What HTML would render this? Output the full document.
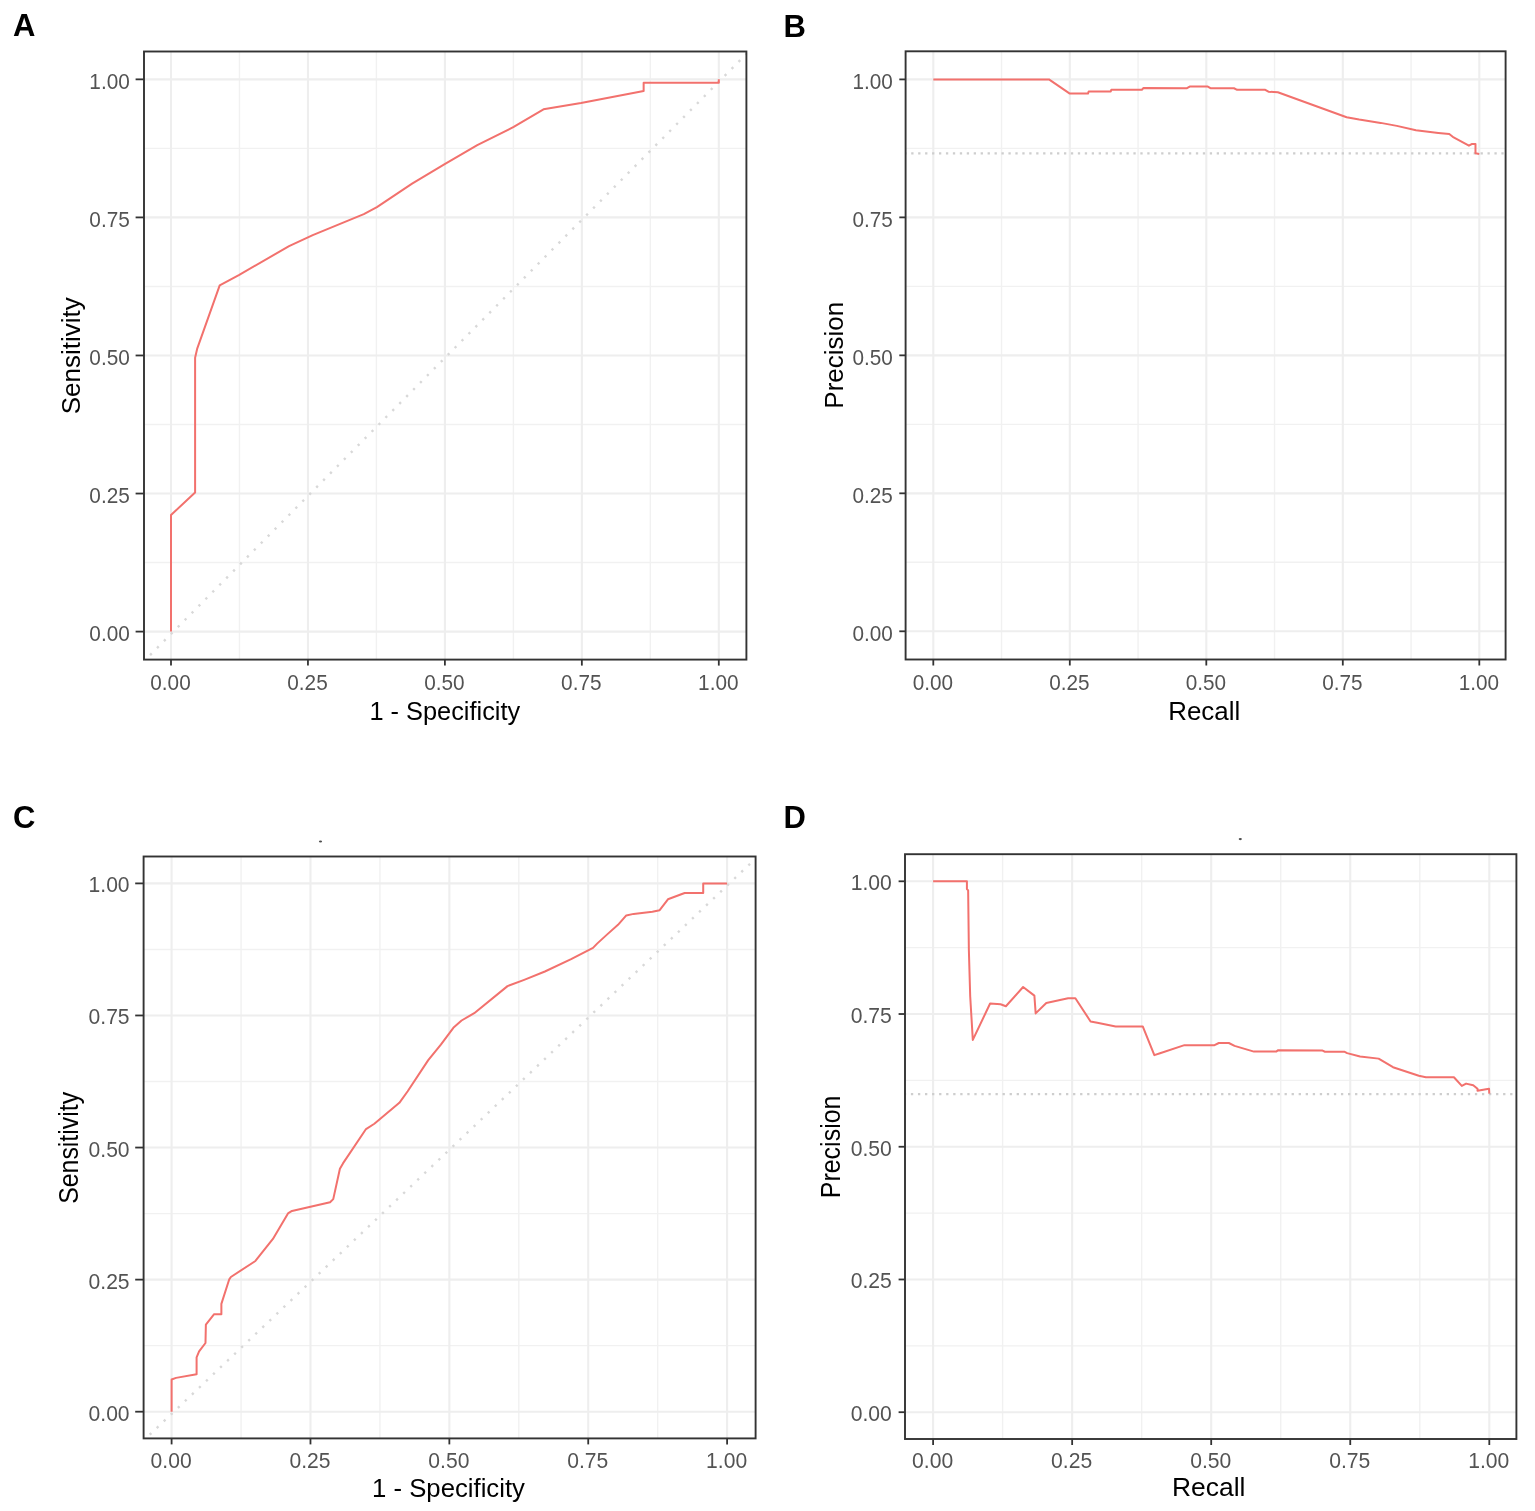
<!DOCTYPE html>
<html><head><meta charset="utf-8"><title>ROC and PR curves</title>
<style>
html,body{margin:0;padding:0;background:#fff;}
body{width:1535px;height:1511px;overflow:hidden;}
svg{display:block;}
text{font-family:'Liberation Sans', Arial, sans-serif;}
</style></head><body>
<svg width="1535" height="1511" viewBox="0 0 1535 1511">
<rect width="1535" height="1511" fill="#fff"/>
<line x1="144" x2="746.4" y1="562.569" y2="562.569" stroke="#F1F1F1" stroke-width="1.4"/>
<line y1="51.5" y2="659.6" x1="239.475" x2="239.475" stroke="#F1F1F1" stroke-width="1.4"/>
<line x1="144" x2="746.4" y1="424.506" y2="424.506" stroke="#F1F1F1" stroke-width="1.4"/>
<line y1="51.5" y2="659.6" x1="376.425" x2="376.425" stroke="#F1F1F1" stroke-width="1.4"/>
<line x1="144" x2="746.4" y1="286.444" y2="286.444" stroke="#F1F1F1" stroke-width="1.4"/>
<line y1="51.5" y2="659.6" x1="513.375" x2="513.375" stroke="#F1F1F1" stroke-width="1.4"/>
<line x1="144" x2="746.4" y1="148.381" y2="148.381" stroke="#F1F1F1" stroke-width="1.4"/>
<line y1="51.5" y2="659.6" x1="650.325" x2="650.325" stroke="#F1F1F1" stroke-width="1.4"/>
<line x1="144" x2="746.4" y1="631.6" y2="631.6" stroke="#EEEEEE" stroke-width="2.1"/>
<line y1="51.5" y2="659.6" x1="171" x2="171" stroke="#EEEEEE" stroke-width="2.1"/>
<line x1="144" x2="746.4" y1="493.538" y2="493.538" stroke="#EEEEEE" stroke-width="2.1"/>
<line y1="51.5" y2="659.6" x1="307.95" x2="307.95" stroke="#EEEEEE" stroke-width="2.1"/>
<line x1="144" x2="746.4" y1="355.475" y2="355.475" stroke="#EEEEEE" stroke-width="2.1"/>
<line y1="51.5" y2="659.6" x1="444.9" x2="444.9" stroke="#EEEEEE" stroke-width="2.1"/>
<line x1="144" x2="746.4" y1="217.413" y2="217.413" stroke="#EEEEEE" stroke-width="2.1"/>
<line y1="51.5" y2="659.6" x1="581.85" x2="581.85" stroke="#EEEEEE" stroke-width="2.1"/>
<line x1="144" x2="746.4" y1="79.35" y2="79.35" stroke="#EEEEEE" stroke-width="2.1"/>
<line y1="51.5" y2="659.6" x1="718.8" x2="718.8" stroke="#EEEEEE" stroke-width="2.1"/>
<line x1="145.606" y1="659.6" x2="746.4" y2="53.926" stroke="#D8D8D8" stroke-width="2.4" stroke-dasharray="2.3 7.53" stroke-dashoffset="3.428"/>
<polyline points="171,631.6 171,515.075 195.103,492.433 195.103,357.684 197.294,348.296 219.699,285.339 238.818,275.123 289.051,246.13 312.771,235.085 363.826,214.099 376.918,207.085 412.087,183.615 444.681,164.12 477.275,145.178 513.704,126.899 543.504,109.337 581.028,103.097 643.642,91.058 643.642,82.829 718.8,82.829 718.8,79.35" fill="none" stroke="#F2716D" stroke-width="2.0" stroke-linejoin="round"/>
<rect x="144" y="51.5" width="602.4" height="608.1" fill="none" stroke="#333333" stroke-width="1.9"/>
<line x1="135.6" x2="144" y1="631.6" y2="631.6" stroke="#333333" stroke-width="1.8"/>
<line y1="659.6" y2="665.6" x1="171" x2="171" stroke="#333333" stroke-width="1.8"/>
<line x1="135.6" x2="144" y1="493.538" y2="493.538" stroke="#333333" stroke-width="1.8"/>
<line y1="659.6" y2="665.6" x1="307.95" x2="307.95" stroke="#333333" stroke-width="1.8"/>
<line x1="135.6" x2="144" y1="355.475" y2="355.475" stroke="#333333" stroke-width="1.8"/>
<line y1="659.6" y2="665.6" x1="444.9" x2="444.9" stroke="#333333" stroke-width="1.8"/>
<line x1="135.6" x2="144" y1="217.413" y2="217.413" stroke="#333333" stroke-width="1.8"/>
<line y1="659.6" y2="665.6" x1="581.85" x2="581.85" stroke="#333333" stroke-width="1.8"/>
<line x1="135.6" x2="144" y1="79.35" y2="79.35" stroke="#333333" stroke-width="1.8"/>
<line y1="659.6" y2="665.6" x1="718.8" x2="718.8" stroke="#333333" stroke-width="1.8"/>
<text transform="translate(129.8,641) scale(1.0,1.1)" text-anchor="end" font-size="20.8" fill="#535353">0.00</text>
<text transform="translate(129.8,502.938) scale(1.0,1.1)" text-anchor="end" font-size="20.8" fill="#535353">0.25</text>
<text transform="translate(129.8,364.875) scale(1.0,1.1)" text-anchor="end" font-size="20.8" fill="#535353">0.50</text>
<text transform="translate(129.8,226.813) scale(1.0,1.1)" text-anchor="end" font-size="20.8" fill="#535353">0.75</text>
<text transform="translate(129.8,88.75) scale(1.0,1.1)" text-anchor="end" font-size="20.8" fill="#535353">1.00</text>
<text transform="translate(170.5,689.8) scale(1.0,1.1)" text-anchor="middle" font-size="20.8" fill="#535353">0.00</text>
<text transform="translate(307.45,689.8) scale(1.0,1.1)" text-anchor="middle" font-size="20.8" fill="#535353">0.25</text>
<text transform="translate(444.4,689.8) scale(1.0,1.1)" text-anchor="middle" font-size="20.8" fill="#535353">0.50</text>
<text transform="translate(581.35,689.8) scale(1.0,1.1)" text-anchor="middle" font-size="20.8" fill="#535353">0.75</text>
<text transform="translate(718.3,689.8) scale(1.0,1.1)" text-anchor="middle" font-size="20.8" fill="#535353">1.00</text>
<text transform="translate(444.8,719.9) scale(0.975,1.02)" text-anchor="middle" font-size="26" fill="#000">1 - Specificity</text>
<text transform="translate(79.8,355.8) scale(1.02,1.0) rotate(-90)" text-anchor="middle" font-size="26" fill="#000">Sensitivity</text>
<text x="13" y="36.4" font-size="31" font-weight="bold" fill="#000">A</text>
<line x1="905.6" x2="1505.6" y1="562.312" y2="562.312" stroke="#F1F1F1" stroke-width="1.4"/>
<line y1="51.3" y2="659.5" x1="1001.55" x2="1001.55" stroke="#F1F1F1" stroke-width="1.4"/>
<line x1="905.6" x2="1505.6" y1="424.337" y2="424.337" stroke="#F1F1F1" stroke-width="1.4"/>
<line y1="51.3" y2="659.5" x1="1138.05" x2="1138.05" stroke="#F1F1F1" stroke-width="1.4"/>
<line x1="905.6" x2="1505.6" y1="286.362" y2="286.362" stroke="#F1F1F1" stroke-width="1.4"/>
<line y1="51.3" y2="659.5" x1="1274.55" x2="1274.55" stroke="#F1F1F1" stroke-width="1.4"/>
<line x1="905.6" x2="1505.6" y1="148.387" y2="148.387" stroke="#F1F1F1" stroke-width="1.4"/>
<line y1="51.3" y2="659.5" x1="1411.05" x2="1411.05" stroke="#F1F1F1" stroke-width="1.4"/>
<line x1="905.6" x2="1505.6" y1="631.3" y2="631.3" stroke="#EEEEEE" stroke-width="2.1"/>
<line y1="51.3" y2="659.5" x1="933.3" x2="933.3" stroke="#EEEEEE" stroke-width="2.1"/>
<line x1="905.6" x2="1505.6" y1="493.325" y2="493.325" stroke="#EEEEEE" stroke-width="2.1"/>
<line y1="51.3" y2="659.5" x1="1069.8" x2="1069.8" stroke="#EEEEEE" stroke-width="2.1"/>
<line x1="905.6" x2="1505.6" y1="355.35" y2="355.35" stroke="#EEEEEE" stroke-width="2.1"/>
<line y1="51.3" y2="659.5" x1="1206.3" x2="1206.3" stroke="#EEEEEE" stroke-width="2.1"/>
<line x1="905.6" x2="1505.6" y1="217.375" y2="217.375" stroke="#EEEEEE" stroke-width="2.1"/>
<line y1="51.3" y2="659.5" x1="1342.8" x2="1342.8" stroke="#EEEEEE" stroke-width="2.1"/>
<line x1="905.6" x2="1505.6" y1="79.4" y2="79.4" stroke="#EEEEEE" stroke-width="2.1"/>
<line y1="51.3" y2="659.5" x1="1479.3" x2="1479.3" stroke="#EEEEEE" stroke-width="2.1"/>
<line x1="905.6" y1="153.355" x2="1505.6" y2="153.355" stroke="#CECECE" stroke-width="2.3" stroke-dasharray="2.3 4.643" stroke-dashoffset="1.322"/>
<polyline points="933.3,79.4 1048.943,79.4 1069.8,93.584 1087.982,93.584 1088.637,91.542 1110.75,91.542 1111.296,89.721 1141.872,89.721 1143.51,88.065 1187.026,88.23 1190.138,86.409 1207.392,86.409 1210.45,88.23 1233.982,88.23 1237.094,89.776 1265.268,89.776 1268.435,91.707 1277.826,92.204 1346.622,117.205 1359.18,119.523 1380.692,122.89 1396.854,125.87 1415.964,130.175 1438.35,132.934 1449.27,134.038 1453.638,137.46 1468.926,145.628 1471.656,144.083 1475.478,144.083 1475.478,153.355 1479.3,153.906" fill="none" stroke="#F2716D" stroke-width="2.0" stroke-linejoin="round"/>
<rect x="905.6" y="51.3" width="600" height="608.2" fill="none" stroke="#333333" stroke-width="1.9"/>
<line x1="899.3" x2="905.6" y1="631.3" y2="631.3" stroke="#333333" stroke-width="1.8"/>
<line y1="659.5" y2="665.5" x1="933.3" x2="933.3" stroke="#333333" stroke-width="1.8"/>
<line x1="899.3" x2="905.6" y1="493.325" y2="493.325" stroke="#333333" stroke-width="1.8"/>
<line y1="659.5" y2="665.5" x1="1069.8" x2="1069.8" stroke="#333333" stroke-width="1.8"/>
<line x1="899.3" x2="905.6" y1="355.35" y2="355.35" stroke="#333333" stroke-width="1.8"/>
<line y1="659.5" y2="665.5" x1="1206.3" x2="1206.3" stroke="#333333" stroke-width="1.8"/>
<line x1="899.3" x2="905.6" y1="217.375" y2="217.375" stroke="#333333" stroke-width="1.8"/>
<line y1="659.5" y2="665.5" x1="1342.8" x2="1342.8" stroke="#333333" stroke-width="1.8"/>
<line x1="899.3" x2="905.6" y1="79.4" y2="79.4" stroke="#333333" stroke-width="1.8"/>
<line y1="659.5" y2="665.5" x1="1479.3" x2="1479.3" stroke="#333333" stroke-width="1.8"/>
<text transform="translate(892.8,640.7) scale(0.997,1.1)" text-anchor="end" font-size="20.8" fill="#535353">0.00</text>
<text transform="translate(892.8,502.725) scale(0.997,1.1)" text-anchor="end" font-size="20.8" fill="#535353">0.25</text>
<text transform="translate(892.8,364.75) scale(0.997,1.1)" text-anchor="end" font-size="20.8" fill="#535353">0.50</text>
<text transform="translate(892.8,226.775) scale(0.997,1.1)" text-anchor="end" font-size="20.8" fill="#535353">0.75</text>
<text transform="translate(892.8,88.8) scale(0.997,1.1)" text-anchor="end" font-size="20.8" fill="#535353">1.00</text>
<text transform="translate(932.8,689.9) scale(0.997,1.1)" text-anchor="middle" font-size="20.8" fill="#535353">0.00</text>
<text transform="translate(1069.3,689.9) scale(0.997,1.1)" text-anchor="middle" font-size="20.8" fill="#535353">0.25</text>
<text transform="translate(1205.8,689.9) scale(0.997,1.1)" text-anchor="middle" font-size="20.8" fill="#535353">0.50</text>
<text transform="translate(1342.3,689.9) scale(0.997,1.1)" text-anchor="middle" font-size="20.8" fill="#535353">0.75</text>
<text transform="translate(1478.8,689.9) scale(0.997,1.1)" text-anchor="middle" font-size="20.8" fill="#535353">1.00</text>
<text transform="translate(1204.2,719.7) scale(0.997,1.02)" text-anchor="middle" font-size="26" fill="#000">Recall</text>
<text transform="translate(842.5,355.2) scale(1.017,1.0) rotate(-90)" text-anchor="middle" font-size="26" fill="#000">Precision</text>
<text x="783.6" y="36.6" font-size="31" font-weight="bold" fill="#000">B</text>
<line x1="143.6" x2="755.6" y1="1345.663" y2="1345.663" stroke="#F1F1F1" stroke-width="1.4"/>
<line y1="856.5" y2="1438.4" x1="241.037" x2="241.037" stroke="#F1F1F1" stroke-width="1.4"/>
<line x1="143.6" x2="755.6" y1="1213.588" y2="1213.588" stroke="#F1F1F1" stroke-width="1.4"/>
<line y1="856.5" y2="1438.4" x1="379.913" x2="379.913" stroke="#F1F1F1" stroke-width="1.4"/>
<line x1="143.6" x2="755.6" y1="1081.513" y2="1081.513" stroke="#F1F1F1" stroke-width="1.4"/>
<line y1="856.5" y2="1438.4" x1="518.788" x2="518.788" stroke="#F1F1F1" stroke-width="1.4"/>
<line x1="143.6" x2="755.6" y1="949.438" y2="949.438" stroke="#F1F1F1" stroke-width="1.4"/>
<line y1="856.5" y2="1438.4" x1="657.663" x2="657.663" stroke="#F1F1F1" stroke-width="1.4"/>
<line x1="143.6" x2="755.6" y1="1411.7" y2="1411.7" stroke="#EEEEEE" stroke-width="2.1"/>
<line y1="856.5" y2="1438.4" x1="171.6" x2="171.6" stroke="#EEEEEE" stroke-width="2.1"/>
<line x1="143.6" x2="755.6" y1="1279.625" y2="1279.625" stroke="#EEEEEE" stroke-width="2.1"/>
<line y1="856.5" y2="1438.4" x1="310.475" x2="310.475" stroke="#EEEEEE" stroke-width="2.1"/>
<line x1="143.6" x2="755.6" y1="1147.55" y2="1147.55" stroke="#EEEEEE" stroke-width="2.1"/>
<line y1="856.5" y2="1438.4" x1="449.35" x2="449.35" stroke="#EEEEEE" stroke-width="2.1"/>
<line x1="143.6" x2="755.6" y1="1015.475" y2="1015.475" stroke="#EEEEEE" stroke-width="2.1"/>
<line y1="856.5" y2="1438.4" x1="588.225" x2="588.225" stroke="#EEEEEE" stroke-width="2.1"/>
<line x1="143.6" x2="755.6" y1="883.4" y2="883.4" stroke="#EEEEEE" stroke-width="2.1"/>
<line y1="856.5" y2="1438.4" x1="727.1" x2="727.1" stroke="#EEEEEE" stroke-width="2.1"/>
<line x1="145.839" y1="1438.4" x2="755.6" y2="858.495" stroke="#D8D8D8" stroke-width="2.4" stroke-dasharray="2.3 7.42" stroke-dashoffset="4.388"/>
<polyline points="171.6,1411.7 171.6,1379.474 176.044,1377.889 196.597,1374.191 196.597,1357.285 199.097,1351.474 205.486,1343.021 205.874,1324.531 214.151,1314.176 221.373,1314.176 221.373,1303.927 229.261,1279.308 230.872,1276.984 255.425,1260.976 272.923,1238.946 287.977,1213.429 291.977,1210.946 330.084,1202.176 333.25,1199.112 339.916,1168.682 342.972,1163.399 366.025,1129.06 374.357,1123.776 399.355,1102.803 407.688,1091.286 428.241,1060.116 440.851,1044.532 453.35,1027.784 461.571,1020.494 474.236,1013.203 507.511,986.102 524.176,979.815 544.896,971.52 571.116,959.211 593.002,947.853 597.113,943.626 607.501,934.117 618,924.819 626.277,915.415 633.609,913.883 652.385,911.823 659.662,910.185 667.939,899.302 684.66,893.015 703.213,893.015 703.213,883.4 727.1,883.4" fill="none" stroke="#F2716D" stroke-width="2.0" stroke-linejoin="round"/>
<rect x="143.6" y="856.5" width="612" height="581.9" fill="none" stroke="#333333" stroke-width="1.9"/>
<line x1="135.2" x2="143.6" y1="1411.7" y2="1411.7" stroke="#333333" stroke-width="1.8"/>
<line y1="1438.4" y2="1444.4" x1="171.6" x2="171.6" stroke="#333333" stroke-width="1.8"/>
<line x1="135.2" x2="143.6" y1="1279.625" y2="1279.625" stroke="#333333" stroke-width="1.8"/>
<line y1="1438.4" y2="1444.4" x1="310.475" x2="310.475" stroke="#333333" stroke-width="1.8"/>
<line x1="135.2" x2="143.6" y1="1147.55" y2="1147.55" stroke="#333333" stroke-width="1.8"/>
<line y1="1438.4" y2="1444.4" x1="449.35" x2="449.35" stroke="#333333" stroke-width="1.8"/>
<line x1="135.2" x2="143.6" y1="1015.475" y2="1015.475" stroke="#333333" stroke-width="1.8"/>
<line y1="1438.4" y2="1444.4" x1="588.225" x2="588.225" stroke="#333333" stroke-width="1.8"/>
<line x1="135.2" x2="143.6" y1="883.4" y2="883.4" stroke="#333333" stroke-width="1.8"/>
<line y1="1438.4" y2="1444.4" x1="727.1" x2="727.1" stroke="#333333" stroke-width="1.8"/>
<text transform="translate(129.6,1420.7) scale(1.014,1.053)" text-anchor="end" font-size="20.8" fill="#535353">0.00</text>
<text transform="translate(129.6,1288.625) scale(1.014,1.053)" text-anchor="end" font-size="20.8" fill="#535353">0.25</text>
<text transform="translate(129.6,1156.55) scale(1.014,1.053)" text-anchor="end" font-size="20.8" fill="#535353">0.50</text>
<text transform="translate(129.6,1024.475) scale(1.014,1.053)" text-anchor="end" font-size="20.8" fill="#535353">0.75</text>
<text transform="translate(129.6,892.4) scale(1.014,1.053)" text-anchor="end" font-size="20.8" fill="#535353">1.00</text>
<text transform="translate(171.1,1467.6) scale(1.014,1.053)" text-anchor="middle" font-size="20.8" fill="#535353">0.00</text>
<text transform="translate(309.975,1467.6) scale(1.014,1.053)" text-anchor="middle" font-size="20.8" fill="#535353">0.25</text>
<text transform="translate(448.85,1467.6) scale(1.014,1.053)" text-anchor="middle" font-size="20.8" fill="#535353">0.50</text>
<text transform="translate(587.725,1467.6) scale(1.014,1.053)" text-anchor="middle" font-size="20.8" fill="#535353">0.75</text>
<text transform="translate(726.6,1467.6) scale(1.014,1.053)" text-anchor="middle" font-size="20.8" fill="#535353">1.00</text>
<text transform="translate(448.5,1496.8) scale(0.989,0.976)" text-anchor="middle" font-size="26" fill="#000">1 - Specificity</text>
<text transform="translate(78.2,1147.9) scale(1.034,0.957) rotate(-90)" text-anchor="middle" font-size="26" fill="#000">Sensitivity</text>
<text x="13.1" y="827.5" font-size="31" font-weight="bold" fill="#000">C</text>
<ellipse cx="320.5" cy="841.5" rx="1.6" ry="1.1" fill="#4D4D4D"/>
<line x1="905" x2="1516.4" y1="1345.838" y2="1345.838" stroke="#F1F1F1" stroke-width="1.4"/>
<line y1="854.2" y2="1439" x1="1002.625" x2="1002.625" stroke="#F1F1F1" stroke-width="1.4"/>
<line x1="905" x2="1516.4" y1="1213.112" y2="1213.112" stroke="#F1F1F1" stroke-width="1.4"/>
<line y1="854.2" y2="1439" x1="1141.675" x2="1141.675" stroke="#F1F1F1" stroke-width="1.4"/>
<line x1="905" x2="1516.4" y1="1080.388" y2="1080.388" stroke="#F1F1F1" stroke-width="1.4"/>
<line y1="854.2" y2="1439" x1="1280.725" x2="1280.725" stroke="#F1F1F1" stroke-width="1.4"/>
<line x1="905" x2="1516.4" y1="947.662" y2="947.662" stroke="#F1F1F1" stroke-width="1.4"/>
<line y1="854.2" y2="1439" x1="1419.775" x2="1419.775" stroke="#F1F1F1" stroke-width="1.4"/>
<line x1="905" x2="1516.4" y1="1412.2" y2="1412.2" stroke="#EEEEEE" stroke-width="2.1"/>
<line y1="854.2" y2="1439" x1="933.1" x2="933.1" stroke="#EEEEEE" stroke-width="2.1"/>
<line x1="905" x2="1516.4" y1="1279.475" y2="1279.475" stroke="#EEEEEE" stroke-width="2.1"/>
<line y1="854.2" y2="1439" x1="1072.15" x2="1072.15" stroke="#EEEEEE" stroke-width="2.1"/>
<line x1="905" x2="1516.4" y1="1146.75" y2="1146.75" stroke="#EEEEEE" stroke-width="2.1"/>
<line y1="854.2" y2="1439" x1="1211.2" x2="1211.2" stroke="#EEEEEE" stroke-width="2.1"/>
<line x1="905" x2="1516.4" y1="1014.025" y2="1014.025" stroke="#EEEEEE" stroke-width="2.1"/>
<line y1="854.2" y2="1439" x1="1350.25" x2="1350.25" stroke="#EEEEEE" stroke-width="2.1"/>
<line x1="905" x2="1516.4" y1="881.3" y2="881.3" stroke="#EEEEEE" stroke-width="2.1"/>
<line y1="854.2" y2="1439" x1="1489.3" x2="1489.3" stroke="#EEEEEE" stroke-width="2.1"/>
<line x1="905" y1="1094.191" x2="1516.4" y2="1094.191" stroke="#CECECE" stroke-width="2.3" stroke-dasharray="2.3 4.75" stroke-dashoffset="1.15"/>
<polyline points="933.1,881.3 966.917,881.3 966.917,888.998 968.141,890.325 968.864,949.892 970.199,996.24 972.813,1039.933 990.111,1003.513 1000.567,1004.203 1005.907,1006.221 1023.093,987.002 1034.384,995.603 1035.663,1013.388 1046.287,1002.929 1068.09,998.204 1075.376,998.204 1090.56,1021.458 1097.29,1022.732 1115.645,1026.554 1142.843,1026.554 1154.356,1055.117 1160.03,1053.312 1184.447,1045.136 1214.537,1045.136 1218.82,1043.012 1228.832,1043.012 1234.56,1045.879 1253.972,1051.613 1276.164,1051.613 1278.222,1050.126 1322.051,1050.445 1324.943,1051.719 1344.243,1051.719 1347.135,1053.152 1360.039,1056.497 1378.616,1058.621 1393.022,1067.221 1418.829,1075.822 1425.893,1077.202 1453.926,1077.202 1461.824,1085.856 1466.106,1083.626 1473.226,1085.166 1477.509,1088.723 1477.509,1090.846 1484.684,1089.413 1489.022,1088.723 1489.3,1093.66" fill="none" stroke="#F2716D" stroke-width="2.0" stroke-linejoin="round"/>
<rect x="905" y="854.2" width="611.4" height="584.8" fill="none" stroke="#333333" stroke-width="1.9"/>
<line x1="898.6" x2="905" y1="1412.2" y2="1412.2" stroke="#333333" stroke-width="1.8"/>
<line y1="1439" y2="1445" x1="933.1" x2="933.1" stroke="#333333" stroke-width="1.8"/>
<line x1="898.6" x2="905" y1="1279.475" y2="1279.475" stroke="#333333" stroke-width="1.8"/>
<line y1="1439" y2="1445" x1="1072.15" x2="1072.15" stroke="#333333" stroke-width="1.8"/>
<line x1="898.6" x2="905" y1="1146.75" y2="1146.75" stroke="#333333" stroke-width="1.8"/>
<line y1="1439" y2="1445" x1="1211.2" x2="1211.2" stroke="#333333" stroke-width="1.8"/>
<line x1="898.6" x2="905" y1="1014.025" y2="1014.025" stroke="#333333" stroke-width="1.8"/>
<line y1="1439" y2="1445" x1="1350.25" x2="1350.25" stroke="#333333" stroke-width="1.8"/>
<line x1="898.6" x2="905" y1="881.3" y2="881.3" stroke="#333333" stroke-width="1.8"/>
<line y1="1439" y2="1445" x1="1489.3" x2="1489.3" stroke="#333333" stroke-width="1.8"/>
<text transform="translate(891.8,1421.2) scale(1.016,1.057)" text-anchor="end" font-size="20.8" fill="#535353">0.00</text>
<text transform="translate(891.8,1288.475) scale(1.016,1.057)" text-anchor="end" font-size="20.8" fill="#535353">0.25</text>
<text transform="translate(891.8,1155.75) scale(1.016,1.057)" text-anchor="end" font-size="20.8" fill="#535353">0.50</text>
<text transform="translate(891.8,1023.025) scale(1.016,1.057)" text-anchor="end" font-size="20.8" fill="#535353">0.75</text>
<text transform="translate(891.8,890.3) scale(1.016,1.057)" text-anchor="end" font-size="20.8" fill="#535353">1.00</text>
<text transform="translate(932.6,1468) scale(1.016,1.057)" text-anchor="middle" font-size="20.8" fill="#535353">0.00</text>
<text transform="translate(1071.65,1468) scale(1.016,1.057)" text-anchor="middle" font-size="20.8" fill="#535353">0.25</text>
<text transform="translate(1210.7,1468) scale(1.016,1.057)" text-anchor="middle" font-size="20.8" fill="#535353">0.50</text>
<text transform="translate(1349.75,1468) scale(1.016,1.057)" text-anchor="middle" font-size="20.8" fill="#535353">0.75</text>
<text transform="translate(1488.8,1468) scale(1.016,1.057)" text-anchor="middle" font-size="20.8" fill="#535353">1.00</text>
<text transform="translate(1208.7,1496.4) scale(1.016,0.98)" text-anchor="middle" font-size="26" fill="#000">Recall</text>
<text transform="translate(839.5,1146.9) scale(1.036,0.961) rotate(-90)" text-anchor="middle" font-size="26" fill="#000">Precision</text>
<text x="783.6" y="828.1" font-size="31" font-weight="bold" fill="#000">D</text>
<ellipse cx="1240.3" cy="839.1" rx="1.6" ry="1.1" fill="#4D4D4D"/>
</svg>
</body></html>
